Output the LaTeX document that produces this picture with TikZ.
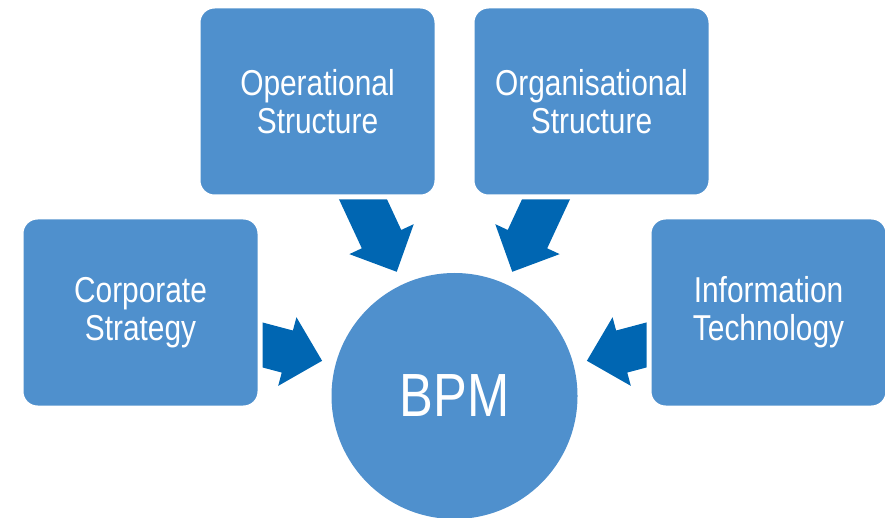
\documentclass[tikz,border=0pt]{standalone}
\usepackage{fontspec}
\setmainfont{Liberation Sans}[FakeStretch=0.83]
\usepackage{tikz}
\usetikzlibrary{positioning,calc,backgrounds}
\definecolor{boxblue}{RGB}{79,144,205}
\definecolor{arrowblue}{RGB}{0,102,178}

\begin{document}
\begin{tikzpicture}[
    x=1pt, y=1pt,
    block/.style={rectangle, fill=boxblue, draw=white, line width=5pt, outer sep=2.5pt, rounded corners=16.5pt, minimum width=239pt, minimum height=191pt, inner sep=0pt, align=center, text=white, font=\fontsize{36}{38}\selectfont},
    hub/.style={circle, fill=boxblue, minimum size=246pt, inner sep=0pt, text=white, font=\fontsize{61}{61}\selectfont},
    bigarrow/.style={fill=arrowblue}
]
\useasboundingbox (0,0) rectangle (885,517);

% Centre
\node[hub] (bpm) at (454.5,121) {BPM};

% Top row
\node[block] (opstruct) at (317.5,415.5) {Operational\\Structure};
\node[block, right=30pt of opstruct] (orgstruct) {Organisational\\Structure};

% Side boxes
\node[block] (corpstrat) at (140.5,204.5) {Corporate\\Strategy};
\node[block] (infotech) at (768.5,204.5) {Information\\Technology};

% Arrows (tails tucked under the boxes)
\begin{pgfonlayer}{background}
\foreach \src in {opstruct,orgstruct,corpstrat,infotech} {
  \coordinate (tip) at ($(bpm)!137pt!(\src)$);
  \coordinate (tail) at ($(bpm)!260pt!(\src)$);
  \coordinate (base) at ($(tip)!36pt!(tail)$);
  \path[bigarrow] ($(tail)!21.75pt!90:(tip)$) -- ($(base)!21.75pt!90:(tip)$)
    -- ($(base)!35.5pt!90:(tip)$) -- (tip) -- ($(base)!35.5pt!-90:(tip)$)
    -- ($(base)!21.75pt!-90:(tip)$) -- ($(tail)!21.75pt!-90:(tip)$) -- cycle;
}
\end{pgfonlayer}

\end{tikzpicture}
\end{document}
